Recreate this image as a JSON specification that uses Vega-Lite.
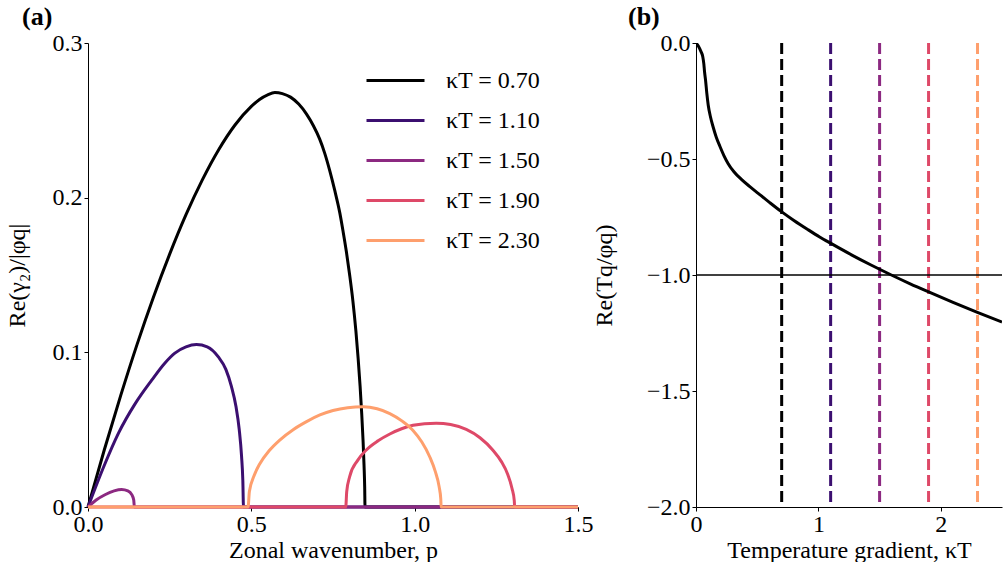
{
  "$schema": "https://vega.github.io/schema/vega-lite/v6.json",
  "background": "white",
  "padding": {"left": 5, "top": 4, "right": 0, "bottom": 0},
  "spacing": -1,
  "datasets": {
    "growth": [
      {"p": 0, "v": 0, "kT": 0.7}, {"p": 0.05, "v": 0.037, "kT": 0.7}, {"p": 0.1, "v": 0.072, "kT": 0.7}, {"p": 0.15, "v": 0.105, "kT": 0.7}, {"p": 0.2, "v": 0.1355, "kT": 0.7}, {"p": 0.25, "v": 0.1635, "kT": 0.7}, {"p": 0.3, "v": 0.189, "kT": 0.7}, {"p": 0.35, "v": 0.2115, "kT": 0.7}, {"p": 0.4, "v": 0.231, "kT": 0.7}, {"p": 0.45, "v": 0.247, "kT": 0.7}, {"p": 0.5, "v": 0.259, "kT": 0.7}, {"p": 0.525, "v": 0.2635, "kT": 0.7}, {"p": 0.55, "v": 0.2665, "kT": 0.7}, {"p": 0.572, "v": 0.268, "kT": 0.7}, {"p": 0.595, "v": 0.2673, "kT": 0.7}, {"p": 0.62, "v": 0.265, "kT": 0.7}, {"p": 0.645, "v": 0.2605, "kT": 0.7}, {"p": 0.669, "v": 0.254, "kT": 0.7}, {"p": 0.69, "v": 0.2465, "kT": 0.7}, {"p": 0.709, "v": 0.238, "kT": 0.7}, {"p": 0.725, "v": 0.2285, "kT": 0.7}, {"p": 0.74, "v": 0.2175, "kT": 0.7}, {"p": 0.755, "v": 0.205, "kT": 0.7}, {"p": 0.771, "v": 0.19, "kT": 0.7}, {"p": 0.781, "v": 0.178, "kT": 0.7}, {"p": 0.791, "v": 0.165, "kT": 0.7}, {"p": 0.801, "v": 0.15, "kT": 0.7}, {"p": 0.811, "v": 0.133, "kT": 0.7}, {"p": 0.82, "v": 0.114, "kT": 0.7}, {"p": 0.827, "v": 0.096, "kT": 0.7}, {"p": 0.833, "v": 0.078, "kT": 0.7}, {"p": 0.838, "v": 0.06, "kT": 0.7}, {"p": 0.842, "v": 0.043, "kT": 0.7}, {"p": 0.845, "v": 0.027, "kT": 0.7}, {"p": 0.847, "v": 0.013, "kT": 0.7}, {"p": 0.848, "v": 0, "kT": 0.7}, {"p": 1.5, "v": 0, "kT": 0.7},
      {"p": 0, "v": 0, "kT": 1.1}, {"p": 0.05, "v": 0.027, "kT": 1.1}, {"p": 0.093, "v": 0.0476, "kT": 1.1}, {"p": 0.145, "v": 0.067, "kT": 1.1}, {"p": 0.195, "v": 0.082, "kT": 1.1}, {"p": 0.235, "v": 0.093, "kT": 1.1}, {"p": 0.266, "v": 0.0995, "kT": 1.1}, {"p": 0.3, "v": 0.1035, "kT": 1.1}, {"p": 0.332, "v": 0.105, "kT": 1.1}, {"p": 0.365, "v": 0.1035, "kT": 1.1}, {"p": 0.399, "v": 0.097, "kT": 1.1}, {"p": 0.422, "v": 0.089, "kT": 1.1}, {"p": 0.439, "v": 0.078, "kT": 1.1}, {"p": 0.453, "v": 0.065, "kT": 1.1}, {"p": 0.463, "v": 0.05, "kT": 1.1}, {"p": 0.47, "v": 0.033, "kT": 1.1}, {"p": 0.474, "v": 0.017, "kT": 1.1}, {"p": 0.476, "v": 0, "kT": 1.1}, {"p": 1.5, "v": 0, "kT": 1.1},
      {"p": 0, "v": 0, "kT": 1.5}, {"p": 0.025, "v": 0.0045, "kT": 1.5}, {"p": 0.052, "v": 0.0079, "kT": 1.5}, {"p": 0.08, "v": 0.0104, "kT": 1.5}, {"p": 0.103, "v": 0.0113, "kT": 1.5}, {"p": 0.122, "v": 0.0104, "kT": 1.5}, {"p": 0.134, "v": 0.008, "kT": 1.5}, {"p": 0.14, "v": 0.0045, "kT": 1.5}, {"p": 0.142, "v": 0, "kT": 1.5}, {"p": 1.5, "v": 0, "kT": 1.5},
      {"p": 0, "v": 0, "kT": 1.9}, {"p": 0.789, "v": 0, "kT": 1.9}, {"p": 0.792, "v": 0.01, "kT": 1.9}, {"p": 0.801, "v": 0.0196, "kT": 1.9}, {"p": 0.825, "v": 0.03, "kT": 1.9}, {"p": 0.852, "v": 0.0369, "kT": 1.9}, {"p": 0.888, "v": 0.0428, "kT": 1.9}, {"p": 0.924, "v": 0.0472, "kT": 1.9}, {"p": 0.96, "v": 0.0506, "kT": 1.9}, {"p": 0.995, "v": 0.0528, "kT": 1.9}, {"p": 1.03, "v": 0.0539, "kT": 1.9}, {"p": 1.066, "v": 0.0542, "kT": 1.9}, {"p": 1.11, "v": 0.0533, "kT": 1.9}, {"p": 1.158, "v": 0.0502, "kT": 1.9}, {"p": 1.2, "v": 0.0448, "kT": 1.9}, {"p": 1.239, "v": 0.0369, "kT": 1.9}, {"p": 1.265, "v": 0.0295, "kT": 1.9}, {"p": 1.285, "v": 0.021, "kT": 1.9}, {"p": 1.298, "v": 0.012, "kT": 1.9}, {"p": 1.305, "v": 0.004, "kT": 1.9}, {"p": 1.306, "v": 0, "kT": 1.9}, {"p": 1.5, "v": 0, "kT": 1.9},
      {"p": 0, "v": 0, "kT": 2.3}, {"p": 0.49, "v": 0, "kT": 2.3}, {"p": 0.494, "v": 0.01, "kT": 2.3}, {"p": 0.508, "v": 0.02, "kT": 2.3}, {"p": 0.526, "v": 0.028, "kT": 2.3}, {"p": 0.555, "v": 0.0365, "kT": 2.3}, {"p": 0.587, "v": 0.0433, "kT": 2.3}, {"p": 0.628, "v": 0.0500, "kT": 2.3}, {"p": 0.669, "v": 0.0552, "kT": 2.3}, {"p": 0.71, "v": 0.0595, "kT": 2.3}, {"p": 0.75, "v": 0.0624, "kT": 2.3}, {"p": 0.795, "v": 0.0642, "kT": 2.3}, {"p": 0.842, "v": 0.0648, "kT": 2.3}, {"p": 0.885, "v": 0.0635, "kT": 2.3}, {"p": 0.924, "v": 0.0604, "kT": 2.3}, {"p": 0.962, "v": 0.0555, "kT": 2.3}, {"p": 0.995, "v": 0.0495, "kT": 2.3}, {"p": 1.022, "v": 0.042, "kT": 2.3}, {"p": 1.046, "v": 0.0325, "kT": 2.3}, {"p": 1.063, "v": 0.023, "kT": 2.3}, {"p": 1.075, "v": 0.013, "kT": 2.3}, {"p": 1.08, "v": 0.005, "kT": 2.3}, {"p": 1.081, "v": 0, "kT": 2.3}, {"p": 1.5, "v": 0, "kT": 2.3}
    ],
    "tq": [
      {"k": 0, "v": 0}, {"k": 0.02, "v": -0.014}, {"k": 0.04, "v": -0.036}, {"k": 0.055, "v": -0.058}, {"k": 0.064, "v": -0.09}, {"k": 0.07, "v": -0.125}, {"k": 0.078, "v": -0.16}, {"k": 0.088, "v": -0.215}, {"k": 0.1, "v": -0.268}, {"k": 0.118, "v": -0.318}, {"k": 0.14, "v": -0.362}, {"k": 0.165, "v": -0.405}, {"k": 0.195, "v": -0.445}, {"k": 0.228, "v": -0.485}, {"k": 0.263, "v": -0.52}, {"k": 0.31, "v": -0.555}, {"k": 0.371, "v": -0.588}, {"k": 0.44, "v": -0.619}, {"k": 0.508, "v": -0.648}, {"k": 0.6, "v": -0.687}, {"k": 0.698, "v": -0.727}, {"k": 0.8, "v": -0.765}, {"k": 0.916, "v": -0.805}, {"k": 1.01, "v": -0.836}, {"k": 1.106, "v": -0.865}, {"k": 1.27, "v": -0.913}, {"k": 1.43, "v": -0.957}, {"k": 1.596, "v": -1.0}, {"k": 1.75, "v": -1.038}, {"k": 1.896, "v": -1.072}, {"k": 2.1, "v": -1.118}, {"k": 2.304, "v": -1.162}, {"k": 2.5, "v": -1.203}
    ],
    "kappas": [{"kT": 0.7}, {"kT": 1.1}, {"kT": 1.5}, {"kT": 1.9}, {"kT": 2.3}],
    "ref": [{"v": -1.0}]
  },
  "config": {
    "font": "Liberation Serif",
    "view": {"stroke": null},
    "axis": {
      "grid": false,
      "domainColor": "black",
      "domainWidth": 1,
      "tickColor": "black",
      "tickSize": 4,
      "labelFontSize": 24,
      "titleFontSize": 24,
      "labelColor": "black",
      "titleColor": "black",
      "titleFontWeight": "normal",
      "labelPadding": 2,
      "labelFlush": false,
      "labelOverlap": false
    },
    "title": {"fontSize": 26, "fontWeight": "bold", "anchor": "start", "color": "black", "offset": 1, "frame": "group"}
  },
  "hconcat": [
    {
      "width": 490,
      "height": 464,
      "title": {"text": "(a)", "dx": -66},
      "data": {"name": "growth"},
      "mark": {"type": "line", "strokeWidth": 3, "interpolate": "monotone"},
      "encoding": {
        "x": {"field": "p", "type": "quantitative", "scale": {"domain": [0, 1.5], "nice": false}, "axis": {"values": [0, 0.5, 1.0, 1.5], "format": ".1f", "title": "Zonal wavenumber, p", "titlePadding": 2, "labelPadding": 1}},
        "y": {"field": "v", "type": "quantitative", "scale": {"domain": [0, 0.3], "nice": false}, "axis": {"values": [0, 0.1, 0.2, 0.3], "format": ".1f", "title": "Re(γ₂)/|φq|", "titlePadding": 23}},
        "color": {
          "field": "kT", "type": "nominal",
          "scale": {"domain": [0.7, 1.1, 1.5, 1.9, 2.3], "range": ["#000000", "#3b0f70", "#8c2981", "#de4968", "#fe9f6d"]},
          "legend": {
            "title": null,
            "orient": "none",
            "legendX": 294,
            "legendY": 24,
            "padding": 0,
            "symbolType": "M-2.5,0L2.5,0",
            "symbolSize": 538,
            "symbolStrokeWidth": 3,
            "symbolFillColor": "transparent",
            "labelFontSize": 24,
            "labelColor": "black",
            "labelOffset": 37,
            "rowPadding": 14,
            "labelExpr": "'κT = ' + format(datum.value, '.2f')"
          }
        },
        "order": {"field": "kT", "type": "quantitative"}
      }
    },
    {
      "width": 306,
      "height": 464,
      "title": {"text": "(b)", "dx": -68},
      "layer": [
        {
          "data": {"name": "kappas"},
          "mark": {"type": "rule", "strokeWidth": 3, "strokeDash": [11, 5]},
          "encoding": {
            "x": {"field": "kT", "type": "quantitative"},
            "color": {"field": "kT", "type": "nominal", "legend": null}
          }
        },
        {
          "data": {"name": "ref"},
          "mark": {"type": "rule", "strokeWidth": 1.5, "color": "black"},
          "encoding": {"y": {"field": "v", "type": "quantitative"}}
        },
        {
          "data": {"name": "tq"},
          "mark": {"type": "line", "strokeWidth": 3, "color": "black", "interpolate": "monotone", "clip": true},
          "encoding": {
            "x": {"field": "k", "type": "quantitative", "scale": {"domain": [0, 2.5], "nice": false}, "axis": {"values": [0, 1, 2], "format": ".0f", "title": "Temperature gradient, κT", "titlePadding": 2, "labelPadding": 1}},
            "y": {"field": "v", "type": "quantitative", "scale": {"domain": [-2, 0], "nice": false}, "axis": {"values": [0, -0.5, -1, -1.5, -2], "format": ".1f", "title": "Re(Tq/φq)", "titlePadding": 30}}
          }
        }
      ]
    }
  ]
}
